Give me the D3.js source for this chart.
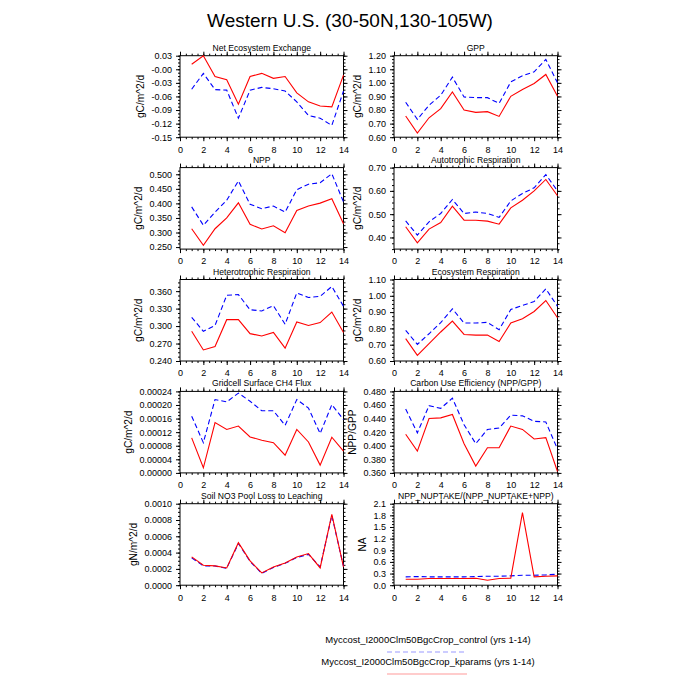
<!DOCTYPE html>
<html>
<head>
<meta charset="utf-8">
<script src="https://cdn.jsdelivr.net/npm/d3@7"></script>
<style>
  body { margin: 0; background: #fff; }
  text { font-family: "Liberation Sans", Arial, Helvetica, sans-serif; fill: #000; }
</style>
</head>
<body>
<div id="chart"></div>
<script>
// years on the x axis
const years = [1, 2, 3, 4, 5, 6, 7, 8, 9, 10, 11, 12, 13, 14]
const xTicks = [0, 2, 4, 6, 8, 10, 12, 14]

const legendLabels = [
  'Myccost_I2000Clm50BgcCrop_control (yrs 1-14)',
  'Myccost_I2000Clm50BgcCrop_kparams (yrs 1-14)'
]

// Net Ecosystem Exchange
const neeControl = [-0.044, -0.009, -0.045, -0.046, -0.108, -0.046, -0.040, -0.043, -0.048, -0.072, -0.102, -0.108, -0.124, -0.048]
const neeKparams = [0.011, 0.030, -0.016, -0.023, -0.077, -0.016, -0.009, -0.020, -0.016, -0.052, -0.072, -0.081, -0.083, -0.013]
const neeTicks = [0.03, 0, -0.03, -0.06, -0.09, -0.12, -0.15]
const neeTickLabels = ['0.03', '-0.00', '-0.03', '-0.06', '-0.09', '-0.12', '-0.15']

// GPP
const gppControl = [0.857, 0.731, 0.835, 0.909, 1.042, 0.896, 0.891, 0.891, 0.849, 1.007, 1.052, 1.081, 1.173, 1.000]
const gppKparams = [0.756, 0.630, 0.743, 0.810, 0.933, 0.800, 0.783, 0.788, 0.753, 0.901, 0.951, 0.995, 1.062, 0.901]
const gppTicks = [0.6, 0.7, 0.8, 0.9, 1.0, 1.1, 1.2]
const gppTickLabels = ['0.60', '0.70', '0.80', '0.90', '1.00', '1.10', '1.20']

// NPP
const nppControl = [0.388, 0.325, 0.370, 0.411, 0.477, 0.397, 0.382, 0.391, 0.370, 0.447, 0.466, 0.471, 0.502, 0.405]
const nppKparams = [0.313, 0.256, 0.313, 0.350, 0.402, 0.328, 0.312, 0.323, 0.299, 0.376, 0.391, 0.401, 0.416, 0.330]
const nppTicks = [0.25, 0.3, 0.35, 0.4, 0.45, 0.5]
const nppTickLabels = ['0.250', '0.300', '0.350', '0.400', '0.450', '0.500']

// Autotrophic Respiration
const arControl = [0.471, 0.410, 0.467, 0.503, 0.563, 0.503, 0.509, 0.503, 0.486, 0.557, 0.589, 0.613, 0.670, 0.600]
const arKparams = [0.446, 0.377, 0.436, 0.464, 0.534, 0.474, 0.474, 0.470, 0.457, 0.527, 0.560, 0.600, 0.649, 0.579]
const arTicks = [0.4, 0.5, 0.6, 0.7]
const arTickLabels = ['0.40', '0.50', '0.60', '0.70']

// Heterotrophic Respiration
const hrControl = [0.315, 0.291, 0.301, 0.353, 0.354, 0.328, 0.326, 0.335, 0.303, 0.357, 0.349, 0.351, 0.368, 0.334]
const hrKparams = [0.291, 0.259, 0.265, 0.311, 0.311, 0.287, 0.283, 0.289, 0.262, 0.307, 0.301, 0.306, 0.324, 0.289]
const hrTicks = [0.24, 0.27, 0.30, 0.33, 0.36]
const hrTickLabels = ['0.240', '0.270', '0.300', '0.330', '0.360']

// Ecosystem Respiration
const erControl = [0.788, 0.702, 0.767, 0.835, 0.920, 0.833, 0.833, 0.837, 0.792, 0.916, 0.941, 0.965, 1.043, 0.935]
const erKparams = [0.737, 0.635, 0.706, 0.778, 0.845, 0.763, 0.759, 0.759, 0.720, 0.833, 0.859, 0.904, 0.971, 0.865]
const erTicks = [0.6, 0.7, 0.8, 0.9, 1.0, 1.1]
const erTickLabels = ['0.60', '0.70', '0.80', '0.90', '1.00', '1.10']

// Gridcell Surface CH4 Flux
const ch4Control = [0.000167, 0.000089, 0.000216, 0.000209, 0.000235, 0.000211, 0.000183, 0.000183, 0.000140, 0.000216, 0.000191, 0.000116, 0.000201, 0.000157]
const ch4Kparams = [0.000103, 0.000015, 0.000148, 0.000128, 0.000138, 0.000106, 0.000096, 0.000089, 0.000052, 0.000128, 0.000091, 0.000023, 0.000105, 0.000064]
const ch4Ticks = [0, 0.00004, 0.00008, 0.00012, 0.00016, 0.0002, 0.00024]
const ch4TickLabels = ['0.00000', '0.00004', '0.00008', '0.00012', '0.00016', '0.00020', '0.00024']

// Carbon Use Efficiency
const cueControl = [0.454, 0.419, 0.459, 0.455, 0.470, 0.431, 0.403, 0.424, 0.426, 0.445, 0.444, 0.436, 0.435, 0.395]
const cueKparams = [0.417, 0.392, 0.440, 0.441, 0.446, 0.403, 0.370, 0.397, 0.397, 0.429, 0.424, 0.410, 0.412, 0.362]
const cueTicks = [0.36, 0.38, 0.40, 0.42, 0.44, 0.46, 0.48]
const cueTickLabels = ['0.360', '0.380', '0.400', '0.420', '0.440', '0.460', '0.480']

// Soil NO3 Pool Loss to Leaching
const no3Control = [0.000335, 0.000238, 0.000235, 0.000208, 0.000512, 0.000292, 0.000145, 0.000218, 0.000268, 0.000340, 0.000378, 0.000225, 0.000855, 0.000230]
const no3Kparams = [0.000347, 0.000245, 0.000237, 0.000212, 0.000522, 0.000298, 0.000151, 0.000224, 0.000273, 0.000347, 0.000388, 0.000212, 0.000869, 0.000224]
const no3Ticks = [0, 0.0002, 0.0004, 0.0006, 0.0008, 0.001]
const no3TickLabels = ['0.0000', '0.0002', '0.0004', '0.0006', '0.0008', '0.0010']

// NPP_NUPTAKE/(NPP_NUPTAKE+NPP)
const nupControl = [0.214, 0.223, 0.214, 0.214, 0.214, 0.214, 0.223, 0.231, 0.231, 0.240, 0.257, 0.257, 0.266, 0.283]
const nupKparams = [0.154, 0.154, 0.171, 0.171, 0.171, 0.171, 0.180, 0.129, 0.171, 0.180, 1.869, 0.214, 0.231, 0.240]
const nupTicks = [0, 0.3, 0.6, 0.9, 1.2, 1.5, 1.8, 2.1]
const nupTickLabels = ['0.0', '0.3', '0.6', '0.9', '1.2', '1.5', '1.8', '2.1']

const panels = [
  {title: 'Net Ecosystem Exchange', ylabel: 'gC/m^2/d', domain: [-0.15, 0.03], ticks: neeTicks, labels: neeTickLabels, control: neeControl, kparams: neeKparams},
  {title: 'GPP', ylabel: 'gC/m^2/d', domain: [0.6, 1.2], ticks: gppTicks, labels: gppTickLabels, control: gppControl, kparams: gppKparams},
  {title: 'NPP', ylabel: 'gC/m^2/d', domain: [0.243, 0.523], ticks: nppTicks, labels: nppTickLabels, control: nppControl, kparams: nppKparams},
  {title: 'Autotrophic Respiration', ylabel: 'gC/m^2/d', domain: [0.35, 0.70], ticks: arTicks, labels: arTickLabels, control: arControl, kparams: arKparams},
  {title: 'Heterotrophic Respiration', ylabel: 'gC/m^2/d', domain: [0.24, 0.38], ticks: hrTicks, labels: hrTickLabels, control: hrControl, kparams: hrKparams},
  {title: 'Ecosystem Respiration', ylabel: 'gC/m^2/d', domain: [0.6, 1.1], ticks: erTicks, labels: erTickLabels, control: erControl, kparams: erKparams},
  {title: 'Gridcell Surface CH4 Flux', ylabel: 'gC/m^2/d', domain: [0, 0.00024], ticks: ch4Ticks, labels: ch4TickLabels, control: ch4Control, kparams: ch4Kparams},
  {title: 'Carbon Use Efficiency (NPP/GPP)', ylabel: 'NPP/GPP', domain: [0.36, 0.48], ticks: cueTicks, labels: cueTickLabels, control: cueControl, kparams: cueKparams},
  {title: 'Soil NO3 Pool Loss to Leaching', ylabel: 'gN/m^2/d', domain: [0, 0.001], ticks: no3Ticks, labels: no3TickLabels, control: no3Control, kparams: no3Kparams},
  {title: 'NPP_NUPTAKE/(NPP_NUPTAKE+NPP)', ylabel: 'NA', domain: [0, 2.1], ticks: nupTicks, labels: nupTickLabels, control: nupControl, kparams: nupKparams}
]

const width = 700
const height = 700
const colX = [180, 394]
const rowY = [55.7, 167.6, 279.5, 391.4, 503.7]
const pw = 163.5
const ph = 81.5

const svg = d3.select('#chart').append('svg')
  .attr('width', width)
  .attr('height', height)

svg.append('text')
  .attr('x', 350)
  .attr('y', 27)
  .attr('text-anchor', 'middle')
  .style('font-size', '19px')
  .text('Western U.S. (30-50N,130-105W)')

panels.forEach((p, i) => {
  const g = svg.append('g')
    .attr('transform', `translate(${colX[i % 2]},${rowY[Math.floor(i / 2)]})`)

  const x = d3.scaleLinear().domain([0, 14]).range([0, pw])
  const y = d3.scaleLinear().domain(p.domain).range([ph, 0])

  // minor ticks: 3 between each pair of majors
  const step = Math.abs(p.ticks[1] - p.ticks[0]) / 4
  const base = Math.min(...p.ticks)
  const yMinor = []
  for (let k = -8; k < 60; k++) {
    const v = base + k * step
    if (v >= p.domain[0] - 1e-12 && v <= p.domain[1] + 1e-12) yMinor.push(v)
  }
  const xMinor = d3.range(0, 14.01, 0.5)

  const axes = [
    d3.axisBottom(x).tickValues(xTicks).tickFormat(d => d).tickSizeInner(4).tickSizeOuter(0).tickPadding(5),
    d3.axisTop(x).tickValues(xTicks).tickFormat('').tickSizeInner(4).tickSizeOuter(0),
    d3.axisLeft(y).tickValues(p.ticks).tickFormat((d, j) => p.labels[j]).tickSizeInner(4).tickSizeOuter(0).tickPadding(4),
    d3.axisRight(y).tickValues(p.ticks).tickFormat('').tickSizeInner(4).tickSizeOuter(0)
  ]
  const minors = [
    d3.axisBottom(x).tickValues(xMinor).tickFormat('').tickSizeInner(2).tickSizeOuter(0),
    d3.axisTop(x).tickValues(xMinor).tickFormat('').tickSizeInner(2).tickSizeOuter(0),
    d3.axisLeft(y).tickValues(yMinor).tickFormat('').tickSizeInner(2).tickSizeOuter(0),
    d3.axisRight(y).tickValues(yMinor).tickFormat('').tickSizeInner(2).tickSizeOuter(0)
  ]
  const shift = ['translate(0,' + ph + ')', '', '', 'translate(' + pw + ',0)']
  minors.concat(axes).forEach((a, j) => {
    const ag = g.append('g').attr('transform', shift[j % 4]).call(a)
    ag.select('.domain').remove()
    ag.selectAll('line').attr('stroke', '#000')
    ag.selectAll('text').style('font-size', '9px').style('font-family', '"Liberation Sans", Arial, sans-serif')
  })

  g.append('rect')
    .attr('width', pw)
    .attr('height', ph)
    .attr('fill', 'none')
    .attr('stroke', '#000')
    .attr('stroke-width', 1)

  const line = d3.line().x((d, j) => x(years[j])).y(d => y(d))
  g.append('path').datum(p.control)
    .attr('d', line)
    .attr('fill', 'none')
    .attr('stroke', '#0000ff')
    .attr('stroke-width', 1.1)
    .attr('stroke-dasharray', '5,3')
  g.append('path').datum(p.kparams)
    .attr('d', line)
    .attr('fill', 'none')
    .attr('stroke', '#ff0000')
    .attr('stroke-width', 1.1)

  g.append('text')
    .attr('x', pw / 2)
    .attr('y', -5)
    .attr('text-anchor', 'middle')
    .style('font-size', '8.6px')
    .text(p.title)

  // y label placed left of the widest tick label
  let maxW = 0
  g.selectAll('text').each(function () {
    const t = d3.select(this).text()
    if (p.labels.includes(t)) maxW = Math.max(maxW, this.getComputedTextLength())
  })
  const lx = -8 - maxW - 7
  g.append('text')
    .attr('transform', `translate(${lx},${ph / 2}) rotate(-90)`)
    .attr('text-anchor', 'middle')
    .style('font-size', '10.2px')
    .text(p.ylabel)
})

// legend
const legendColors = ['#0000ff', '#ff0000']
const legendDash = ['5,3', null]
legendLabels.forEach((lab, i) => {
  const ly = 643 + i * 22
  svg.append('text')
    .attr('x', 428)
    .attr('y', ly)
    .attr('text-anchor', 'middle')
    .style('font-size', '9.5px')
    .text(lab)
  svg.append('line')
    .attr('x1', 387).attr('x2', 467)
    .attr('y1', ly + 9).attr('y2', ly + 9)
    .attr('stroke', legendColors[i])
    .attr('stroke-opacity', 0.4)
    .attr('stroke-width', 1)
    .attr('stroke-dasharray', legendDash[i])
})
</script>
</body>
</html>
